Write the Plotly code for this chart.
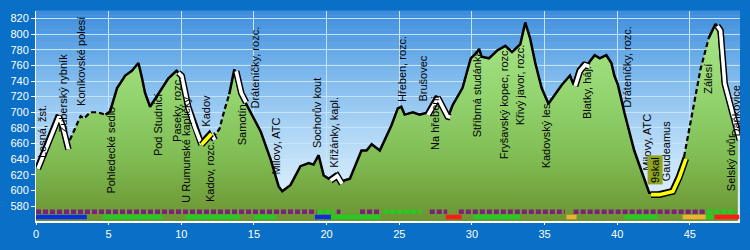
import plotly.graph_objects as go

# ---------------- data ----------------
km = [0.0, 0.46, 0.91, 1.45, 1.7, 2.1, 2.57, 3.07, 3.3, 3.75, 4.2, 4.78, 5.1, 5.58, 6.14, 6.6,
      7.05, 7.28, 7.5, 7.85, 8.42, 9.1, 9.67, 9.9, 10.35, 10.8, 11.26, 11.6, 11.95, 12.17,
      12.63, 12.97, 13.3, 13.65, 14.0, 14.33, 14.8, 15.47, 16.16, 16.7, 16.95, 17.52, 18.2,
      18.77, 19.1, 19.45, 19.8, 20.14, 20.6, 20.93, 21.6, 21.96, 22.4, 22.75, 23.1, 23.66,
      24.46, 24.9, 25.14, 25.37, 25.94, 26.4, 26.85, 27.53, 28.2, 28.4, 28.67, 29.35, 29.92,
      30.26, 30.5, 30.67, 31.17, 31.74, 32.3, 32.76, 33.33, 33.67, 34.0, 34.36, 34.8, 35.27,
      35.72, 36.18, 36.75, 36.98, 37.3, 37.66, 37.95, 38.45, 38.8, 39.25, 39.6, 39.8, 40.05,
      40.5, 41.17, 41.86, 42.2, 42.77, 43.7, 44.14, 44.6, 45.05, 45.73, 46.3, 46.76, 46.98,
      47.27, 47.83, 48.17, 48.3]
elev = [630, 651, 673, 697, 685, 655, 675, 695, 692, 700, 700, 697, 701, 731, 747, 753,
        763, 745, 725, 707, 723, 743, 753, 749, 709, 683, 661, 668, 675, 667,
        679, 703, 723, 755, 727, 715, 699, 675, 639, 605, 599, 607, 631,
        635, 633, 645, 619, 615, 621, 611, 615, 631, 651, 651, 659, 651,
        683, 705, 707, 697, 700, 697, 699, 721, 697, 696, 709, 731, 769,
        775, 781, 771, 769, 779, 785, 777, 787, 815, 795, 763, 731, 711,
        723, 735, 747, 736, 755, 763, 761, 773, 769, 773, 763, 747, 735,
        699, 651, 615, 597, 597, 601, 619, 643, 687, 755, 795, 813, 807,
        739, 699, 679, 667]

solid_parts = [(0, 2.1), (4.78, 12.17), (13.3, 44.6), (46.3, 48.3)]
dashed_parts = [(2.1, 4.78), (12.17, 13.3), (44.6, 46.3)]
white_parts = [(0, 2.1), (9.67, 11.26), (11.95, 12.17), (13.65, 14.33), (20.14, 20.93),
               (26.85, 28.4), (36.98, 37.95), (46.76, 48.3)]
yellow_parts = [(11.26, 11.95), (42.2, 44.6)]

# trail markings (colour, from km, to km)
upper_row = [("#7d1f7d", 0, 19.3), ("#22cc22", 19.4, 20.5), ("#7d1f7d", 20.7, 20.95),
             ("#7d1f7d", 22.3, 23.7), ("#22cc22", 23.9, 26.5), ("#7d1f7d", 27.1, 28.3),
             ("#7d1f7d", 29.1, 36.4), ("#7d1f7d", 37.0, 46.1), ("#22cc22", 46.2, 48.2)]
lower_row = [("#0a2ee0", 0, 3.5), ("#22cc22", 4.6, 8.7), ("#22cc22", 10.3, 14.0),
             ("#22cc22", 15.0, 16.5), ("#0a2ee0", 19.2, 20.3), ("#22cc22", 20.3, 23.7),
             ("#ff1a1a", 28.2, 29.3), ("#22cc22", 30.1, 33.3), ("#f0b030", 36.5, 37.2),
             ("#22cc22", 40.5, 42.8), ("#f0b030", 44.5, 46.1), ("#22cc22", 46.1, 46.6),
             ("#ff1a1a", 46.7, 48.4)]

labels = [("Lesná, žst.", 0.46, 639), ("Zuberský rybník", 1.87, 671),
          ("Koníkovské polesí", 3.1, 705), ("Pohledecké sedlo", 5.18, 593),
          ("Pod Studnicí", 8.45, 641), ("Paseky, rozc.", 9.7, 660),
          ("U Rumunské kapličky", 10.34, 582), ("Kadov", 11.7, 679),
          ("Kadov, rozc.", 11.93, 583), ("Samotín", 14.2, 655),
          ("Dráteníčky, rozc.", 15.06, 702), ("Milovy, ATC", 16.5, 618),
          ("Sochorův kout", 19.31, 651), ("Křižánky, kapl.", 20.5, 627),
          ("Hřeben, rozc.", 25.14, 711), ("Brušovec", 26.63, 711),
          ("Na hřebeni", 27.45, 649), ("Stříbrná studánka", 30.33, 665),
          ("Fryšavský kopec, rozc.", 32.26, 637), ("Křivý javor, rozc.", 33.29, 681),
          ("Kadovský les", 35.1, 625), ("Blatky, háj.", 37.97, 689),
          ("Dráteníčky, rozc.", 40.67, 703), ("Milovy, ATC", 42.04, 623),
          ("Gaudeamus", 43.35, 609), ("Zálesí", 46.24, 721),
          ("Selský dvůr", 47.83, 597), ("Daňkovice", 48.17, 667)]
badge = ("9skal", 42.6, 607)

x_ticks = [0, 5, 10, 15, 20, 25, 30, 35, 40, 45]
y_ticks = [580, 600, 620, 640, 660, 680, 700, 720, 740, 760, 780, 800, 820]

# ---------------- style ----------------
X_RANGE = [0, 48.45]
Y_RANGE = [560.8, 829.6]
FONT = "Liberation Sans, Arial, sans-serif"
ROW_UP, ROW_LO = 572.6, 565.9
OFF_X, OFF_Y = 0.13, -2.5


def part(a, b):
    idx = [i for i, k in enumerate(km) if a - 1e-9 <= k <= b + 1e-9]
    return [km[i] for i in idx], [elev[i] for i in idx]


fig = go.Figure()

# terrain fill
fig.add_trace(go.Scatter(
    x=km, y=elev, mode="none", fill="tozeroy",
    fillgradient=dict(type="vertical", start=561, stop=815,
                      colorscale=[[0, "#6c8a30"], [0.12, "#6f9a37"], [0.35, "#7fbb52"],
                                  [0.65, "#93d46f"], [1, "#a8e68a"]]),
    hoverinfo="skip", showlegend=False))

for a, b in solid_parts:
    xs, ys = part(a, b)
    fig.add_trace(go.Scatter(x=xs, y=ys, mode="lines", line=dict(color="black", width=2.5),
                             hoverinfo="skip", showlegend=False))
for a, b in dashed_parts:
    xs, ys = part(a, b)
    fig.add_trace(go.Scatter(x=xs, y=ys, mode="lines",
                             line=dict(color="black", width=2.2, dash="5px,3px"),
                             hoverinfo="skip", showlegend=False))

for parts, col in ((white_parts, "white"), (yellow_parts, "#ffff00")):
    for a, b in parts:
        xs, ys = part(a, b)
        xs = [v + OFF_X for v in xs]
        ys = [v + OFF_Y for v in ys]
        fig.add_trace(go.Scatter(x=xs, y=ys, mode="lines", line=dict(color="black", width=6.5),
                                 hoverinfo="skip", showlegend=False))
        fig.add_trace(go.Scatter(x=xs, y=ys, mode="lines", line=dict(color=col, width=3.6),
                                 hoverinfo="skip", showlegend=False))

for col, a, b in upper_row:
    fig.add_trace(go.Scatter(x=[a, b], y=[ROW_UP, ROW_UP], mode="lines",
                             line=dict(color=col, width=4.5, dash="5px,2px"),
                             hoverinfo="skip", showlegend=False))
for col, a, b in lower_row:
    fig.add_trace(go.Scatter(x=[a, b], y=[ROW_LO, ROW_LO], mode="lines",
                             line=dict(color=col, width=4.5),
                             hoverinfo="skip", showlegend=False))

# sky gradient (below grid)
sky = [(0.0, (0xe2, 0xf1, 0xfd)), (0.2, (0xd2, 0xe9, 0xfa)), (0.45, (0xaa, 0xd3, 0xf4)),
       (0.7, (0x7c, 0xb8, 0xec)), (1.0, (0x3c, 0x8c, 0xdc))]


def sky_col(t):
    for (t0, c0), (t1, c1) in zip(sky[:-1], sky[1:]):
        if t0 <= t <= t1:
            f = (t - t0) / (t1 - t0)
            return "rgb(%d,%d,%d)" % tuple(round(c0[j] + (c1[j] - c0[j]) * f) for j in range(3))
    return "rgb(%d,%d,%d)" % sky[-1][1]


N = 90
shapes = []
for i in range(N):
    y0, y1 = i / N, (i + 1) / N
    shapes.append(dict(type="rect", xref="x domain", yref="y domain", x0=0, x1=1,
                       y0=y0, y1=y1 + 0.002, fillcolor=sky_col((y0 + y1) / 2),
                       line=dict(width=0), layer="below"))

ann = []
for t, x, y in labels:
    ann.append(dict(x=x, y=y, text=t, textangle=-90, showarrow=False, xanchor="center",
                    yanchor="bottom", font=dict(family=FONT, size=11, color="black")))
ann.append(dict(x=badge[1], y=badge[2], text=badge[0], textangle=-90, showarrow=False,
                xanchor="center", yanchor="bottom", bgcolor="#8fa520", borderpad=1,
                font=dict(family=FONT, size=11, color="black")))

fig.update_layout(
    width=750, height=250, margin=dict(l=30, r=10, t=11, b=15),
    paper_bgcolor="#0a6fc7", plot_bgcolor="#cfe6f8",
    shapes=shapes, annotations=ann, showlegend=False,
    xaxis=dict(range=X_RANGE, tickvals=x_ticks, showgrid=True, gridcolor="#c4e4ff",
               gridwidth=1, zeroline=False, showline=True, linecolor="white", linewidth=1.5,
               ticks="outside", ticklen=2, tickcolor="white", layer="above traces",
               tickfont=dict(family=FONT, size=11, color="white")),
    yaxis=dict(range=Y_RANGE, tickvals=y_ticks, showgrid=True, gridcolor="#c4e4ff",
               gridwidth=1, zeroline=False, showline=True, linecolor="white", linewidth=1,
               ticks="outside", ticklen=4, tickcolor="white", layer="above traces",
               tickfont=dict(family=FONT, size=11, color="white")),
)

fig.write_html("out.html")
